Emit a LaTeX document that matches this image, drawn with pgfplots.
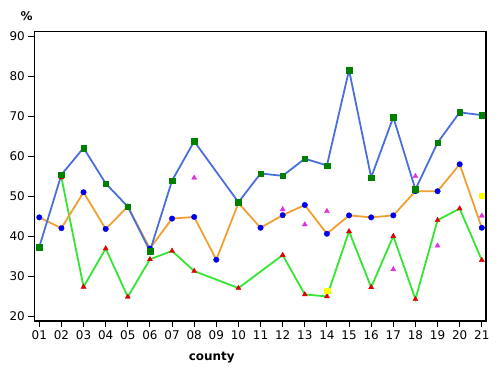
\documentclass[border=0pt]{standalone}
\usepackage{pgfplots}
\pgfplotsset{compat=1.18}
\usepackage{fontspec}
\setmainfont{DejaVu Sans}
\definecolor{lineblue}{HTML}{4A6FDC}
\definecolor{sqgreen}{HTML}{008000}
\definecolor{lineorange}{HTML}{F0A030}
\definecolor{circblue}{HTML}{0000F0}
\definecolor{linegreen}{HTML}{33E633}
\definecolor{trired}{HTML}{E00000}
\definecolor{magtri}{HTML}{E030E0}
\definecolor{yelsq}{HTML}{FFFF00}
\begin{document}
\begin{tikzpicture}[x=1bp,y=1bp]
\path[use as bounding box] (0,0) rectangle (500,375);
\begin{axis}[
  at={(34.3bp,54bp)}, anchor=south west,
  scale only axis, width=451.7bp, height=289.3bp,
  xmin=0.774, xmax=21.19, ymin=18.75, ymax=91.2,
  xtick={1,...,21},
  xticklabels={01,02,03,04,05,06,07,08,09,10,11,12,13,14,15,16,17,18,19,20,21},
  ytick={20,30,...,90},
  tick align=outside, major tick length=6bp,
  xtick pos=bottom, ytick pos=left,
  tick style={black, line width=0.9pt},
  axis line style={black, line width=1.1pt},
  tick label style={font=\fontsize{12}{14}\selectfont},
  /pgf/number format/assume math mode=true,
  clip=false,
]
% green line with red triangles
\addplot[linegreen, line width=1.8pt, mark=triangle*, mark size=3.0pt,
  mark options={fill=trired, draw=trired, line width=0.3pt}] coordinates {
(2,54.7) (3,27.3) (4,36.9) (5,24.8) (6,34.2) (7,36.3) (8,31.25) (10,27.0)
(12,35.25) (13,25.4) (14,24.9) (15,41.2) (16,27.2) (17,40.0) (18,24.2)
(19,44.0) (20,46.9) (21,34.0)};
% magenta triangles
\addplot[only marks, mark=triangle*, mark size=3.0pt,
  mark options={fill=magtri, draw=magtri, line width=0.3pt}] coordinates {
(8,54.6) (12,46.7) (13,42.9) (14,46.25) (17,31.7) (18,55.0) (19,37.6) (21,45.1)};
% orange line with blue circles
\addplot[lineorange, line width=1.8pt, mark=*, mark size=2.8pt,
  mark options={fill=circblue, draw=circblue, line width=0.3pt}] coordinates {
(1,44.7) (2,42.0) (3,51.0) (4,41.8) (5,47.4) (6,36.9) (7,44.4) (8,44.8)
(9,34.1) (10,48.3) (11,42.1) (12,45.25) (13,47.8) (14,40.6) (15,45.2)
(16,44.7) (17,45.2) (18,51.25) (19,51.25) (20,58.0) (21,42.1)};
% blue line with green squares
\addplot[lineblue, line width=1.8pt, mark=square*, mark size=2.8pt,
  mark options={fill=sqgreen, draw=sqgreen, line width=0.3pt}] coordinates {
(1,37.3) (2,55.4) (3,62.1) (4,53.2) (5,47.4) (6,36.25) (7,53.9) (8,63.75)
(10,48.5) (11,55.7) (12,55.1) (13,59.4) (14,57.7) (15,81.6) (16,54.7)
(17,69.8) (18,51.7) (19,63.4) (20,71.0) (21,70.3)};
% yellow squares
\addplot[only marks, mark=square*, mark size=2.8pt,
  mark options={fill=yelsq, draw=yelsq, line width=0.3pt}] coordinates {
(14,26.3) (21,50.1)};
\node[font=\fontsize{12}{14}\selectfont\bfseries, anchor=center]
  at (rel axis cs:-0.017,1.054) {\%};
\node[font=\fontsize{12}{14}\selectfont\bfseries, anchor=center]
  at (rel axis cs:0.393,-0.128) {county};
\end{axis}
\end{tikzpicture}
\end{document}
